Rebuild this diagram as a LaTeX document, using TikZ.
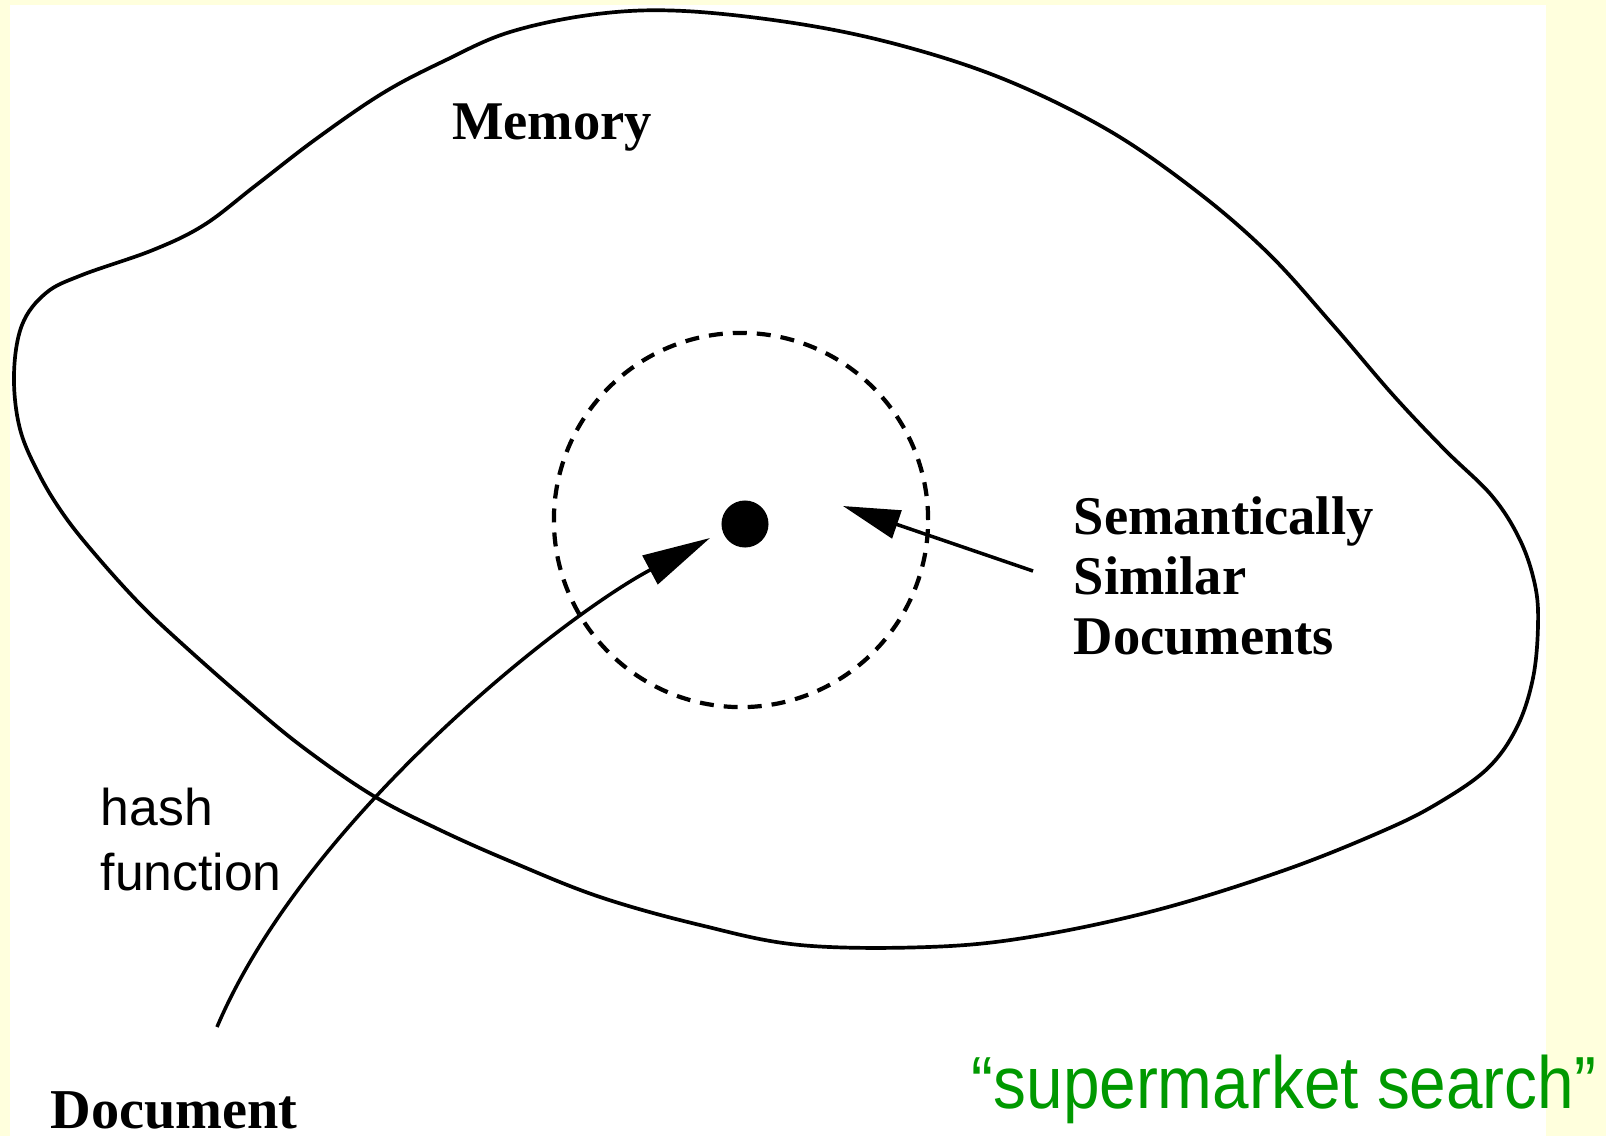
\documentclass[tikz,border=0pt]{standalone}
\usepackage{fontspec}
\usepackage{graphicx}
\setmainfont{Liberation Serif}
\newfontfamily\arialfont{Liberation Sans}
\usetikzlibrary{arrows.meta}
\definecolor{bgyellow}{RGB}{255,255,221}
\definecolor{slidegreen}{RGB}{0,153,0}
\tikzset{
  outline/.style={line width=1.05pt, black},
  simcircle/.style={line width=1.2pt, dash pattern=on 0.14cm off 0.1cm},
  bigarrow/.style={line width=1pt, -{Triangle[length=0.68cm,width=0.32cm]}},
  midarrow/.style={line width=1pt, -{Triangle[length=0.57cm,width=0.29cm]}},
  boldlabel/.style={font=\bfseries\fontsize{15.5}{17}\selectfont, inner sep=0pt, align=left},
  sanslabel/.style={font=\arialfont\fontsize{14.7}{18.5}\selectfont, inner sep=0pt, align=left},
  greenlabel/.style={font=\arialfont\fontsize{21}{24}\selectfont, text=slidegreen, inner sep=0pt}
}
\begin{document}
\begin{tikzpicture}[x=0.01cm, y=-0.01cm]
\useasboundingbox (0,0) rectangle (1606,1136);
\fill[bgyellow] (0,0) rectangle (1606,1136);
\fill[white] (10,5) rectangle (1546,1136);

% memory outline
\draw[outline] plot[smooth cycle, tension=0.6] coordinates {
  (597,14) (684,11) (800,24) (903,46) (1006,80) (1108,130) (1195,190)
  (1268,253) (1333,325) (1393,395) (1445,450) (1492,496) (1520,540)
  (1535,585) (1538,625) (1533,678) (1517,727) (1488,768) (1440,802)
  (1385,830) (1285,870) (1157,910) (1030,937) (928,947) (800,945)
  (700,925) (600,897) (512,862) (440,830) (372,795) (300,745) (240,695)
  (179,641) (140,604) (100,560) (66,518) (40,476) (20,429) (14,375) (22,325)
  (46,293) (82,275) (153,250) (204,225) (255,186) (316,139) (383,93)
  (444,61) (510,32)};

% similar region and point
\node[circle, draw, simcircle, minimum size=3.74cm, inner sep=0pt] (simregion) at (741,520) {};
\node[circle, fill=black, inner sep=0pt, minimum size=0.47cm] (dot) at (745,524) {};

% labels
\node[boldlabel, anchor=base] (memory) at (552,139) {Memory};
\node[boldlabel, anchor=north west] (similar) at (1073,496) {Semantically\\Similar\\Documents};
\node[sanslabel, anchor=north west] (hashlabel) at (100,787) {hash\\function};
\node[boldlabel, font=\bfseries\fontsize{16}{18}\selectfont, anchor=base west] (document) at (50,1128) {Document};

% arrows
\coordinate (semtail) at (1033,571);
\coordinate (semtip) at (843,506);
\draw[midarrow] (semtail) -- (semtip);

\coordinate (hashtail) at (217,1027);
\coordinate (hashtip) at (710,538);
\draw[bigarrow] (hashtail) .. controls (305,820) and (560,618) .. (hashtip);

\node[greenlabel, anchor=base west] (supermarket) at (971,1108) {\scalebox{0.89}[1]{“supermarket search”}};
\end{tikzpicture}
\end{document}
